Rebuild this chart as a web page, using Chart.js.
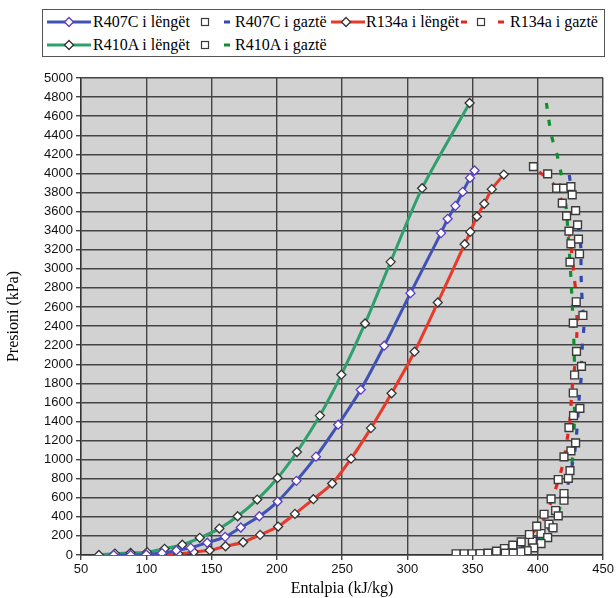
<!DOCTYPE html>
<html>
<head>
<meta charset="utf-8">
<script src="https://cdn.jsdelivr.net/npm/chart.js@4/dist/chart.umd.min.js"></script>
<style>
  body { margin: 0; background: #fff; }
  #wrap { position: relative; width: 616px; height: 598px; }
  #legend { position: absolute; left: 0; top: 0; }
  #legend text { font-family: "Liberation Serif", serif; font-size: 16px; fill: #000; }
</style>
</head>
<body>
<div id="wrap">
  <canvas id="chart" width="616" height="598"></canvas>
  <svg id="legend" width="616" height="62"></svg>
</div>
<script>
// saturated liquid lines (enthalpy kJ/kg, pressure kPa)
const r407cLiqH = [75, 88, 100, 112, 123, 134, 146.7, 160.4, 172.4, 186.6, 200.6, 215, 230, 247, 264.3, 282.3, 302.4, 325.8, 330.9, 336.8, 342.4, 348, 351.5]
const r407cLiqP = [0, 0, 5, 20, 47, 75, 128, 190, 288, 406, 560, 777, 1031, 1366, 1733, 2194, 2745, 3374, 3524, 3660, 3806, 3953, 4030]

const r134aLiqH = [100, 112.3, 124.6, 136.4, 148.6, 160.7, 174.2, 187.2, 201, 213.9, 228, 242.4, 256.9, 272.1, 287.9, 305.5, 323.3, 343.9, 348.2, 353.3, 358.9, 364.7, 373.9]
const r134aLiqP = [0, 10, 12, 32, 50, 92, 134, 211, 298, 431, 585, 749, 1010, 1330, 1695, 2131, 2647, 3258, 3387, 3548, 3681, 3835, 3988]

const r410aLiqH = [63.7, 76, 88, 100.6, 114, 127.6, 141, 156, 170, 185, 200.6, 215.4, 233, 249.5, 267.6, 287.2, 311.3, 347.7]
const r410aLiqP = [0, 15, 23, 30, 65, 107, 180, 277, 406, 581, 808, 1080, 1461, 1890, 2427, 3073, 3845, 4738]

// saturated vapour lines (dashed)
const r407cGazH = [424, 428.6, 431.7, 433, 433, 433.4, 434.2, 435.3, 434.2, 433.4, 433, 431.7, 429.6, 427.9, 424.6, 419, 410, 398.5, 383, 362]
const r407cGazP = [3984, 3592, 3382, 3199, 2990, 2812, 2602, 2414, 2225, 2016, 1838, 1660, 1262, 1052, 843, 508, 288, 141, 58, 16]

const r134aGazH = [401.1, 411.8, 417.9, 422.5, 425.6, 427.9, 429.2, 429.9, 429.9, 429, 428.1, 426.6, 424.3, 422.1, 419.5, 411.6, 404.2, 392.7, 377.5, 358.4]
const r134aGazP = [4016, 3890, 3723, 3503, 3199, 2906, 2728, 2518, 2330, 2152, 1963, 1806, 1387, 1188, 969, 613, 372, 194, 89, 26]

const r410aGazH = [406.5, 410.3, 414.9, 418, 420.2, 421.8, 424, 425.6, 427.5, 428.2, 427.9, 427.1, 424.8, 421.8, 417.2, 411.8, 404.2, 392.7, 377.5]
const r410aGazP = [4738, 4403, 4183, 3984, 3796, 3618, 3199, 2832, 2257, 1838, 1419, 1105, 843, 717, 508, 340, 183, 79, 26]

// measured points (white squares)
const sqAH = [425.3, 426.3, 428.9, 430.4, 431.1, 431.9, 434.5, 433.4, 432.2, 428.9, 424.6, 420, 415.6, 411.6, 407.5, 402.4, 396.8, 391.8, 386.9, 381.1, 375]
const sqAP = [3862, 3775, 3610, 3461, 3311, 3157, 2511, 1977, 1537, 1175, 885, 644, 410, 285, 183, 120, 75, 44, 34, 19, 19]

const sqBH = [396.6, 407.5, 414.4, 419.7, 418.7, 422, 423.8, 425.3, 424.6, 429.4, 427.1, 429.6, 428.1, 427.1, 427.3, 423.8, 425.3, 420, 415.6, 410.1, 404.7, 399.1, 393.5, 387.2, 380.8, 374.4, 368.3, 361.7, 355.6, 349.5, 343.4, 337.3]
const sqBP = [4071, 3995, 3845, 3845, 3688, 3555, 3395, 3262, 3070, 2654, 2431, 2134, 1887, 1698, 1461, 1335, 1091, 1028, 791, 588, 427, 302, 215, 138, 103, 68, 40, 19, 16, 13, 13, 13]

const sqCH = [423.3, 420, 413.6, 408.5, 402.4, 395.8]
const sqCP = [804, 574, 466, 323, 225, 145]

const blue = '#4053b4', red = '#e8392a', green = '#2f9f6c'
const blueDash = '#3048b0', redDash = '#e0281e', greenDash = '#10902c'

function pts(h, p) {
    return h.map((v, i) => ({ x: v, y: p[i] }))
}

function liquid(label, h, p, color, edge) {
    return {
        label: label, data: pts(h, p), showLine: true,
        borderColor: color, borderWidth: 3, tension: 0.25,
        pointStyle: 'rectRot', pointRadius: 4.5, pointHoverRadius: 4.5,
        pointBackgroundColor: '#fff', pointBorderColor: edge, pointBorderWidth: 1.3,
        order: 1
    }
}

function vapour(label, h, p, color) {
    return {
        label: label, data: pts(h, p), showLine: true,
        borderColor: color, borderWidth: 3.2, borderDash: [6, 11], tension: 0.3,
        pointRadius: 0, order: 2
    }
}

function squares(h, p) {
    return {
        label: '', data: pts(h, p), showLine: false,
        pointStyle: 'rect', pointRadius: 5.5, pointHoverRadius: 5.5,
        pointBackgroundColor: '#fff', pointBorderColor: '#3a3a3a', pointBorderWidth: 1.4,
        order: 0
    }
}

const plotBg = {
    id: 'plotBg',
    beforeDraw(chart) {
        const a = chart.chartArea, ctx = chart.ctx
        ctx.save()
        ctx.fillStyle = '#d2d2d2'
        ctx.fillRect(a.left, a.top, a.right - a.left, a.bottom - a.top)
        ctx.restore()
    }
}

new Chart(document.getElementById('chart'), {
    type: 'scatter',
    data: {
        datasets: [
            liquid('R407C i lëngët', r407cLiqH, r407cLiqP, blue, '#5a3cc0'),
            squares(sqAH, sqAP),
            vapour('R407C i gaztë', r407cGazH, r407cGazP, blueDash),
            liquid('R134a i lëngët', r134aLiqH, r134aLiqP, red, '#333'),
            squares(sqBH, sqBP),
            vapour('R134a i gaztë', r134aGazH, r134aGazP, redDash),
            liquid('R410A i lëngët', r410aLiqH, r410aLiqP, green, '#333'),
            squares(sqCH, sqCP),
            vapour('R410A i gaztë', r410aGazH, r410aGazP, greenDash)
        ]
    },
    options: {
        responsive: false,
        animation: false,
        layout: { padding: { top: 78, left: 0, right: 0, bottom: 0 } },
        plugins: { legend: { display: false }, tooltip: { enabled: false } },
        scales: {
            x: {
                type: 'linear', min: 50, max: 450,
                afterFit(scale) { scale.height = 43 },
                ticks: { stepSize: 50, color: '#111', font: { family: 'Liberation Sans', size: 13 }, padding: 2,
                    callback: v => String(v) },
                grid: { color: '#444', lineWidth: 1.4, tickLength: 5 },
                border: { color: '#333', width: 1.4 },
                title: { display: true, text: 'Entalpia (kJ/kg)', color: '#000',
                    font: { family: 'Liberation Serif', size: 16 }, padding: { top: 2, bottom: 0 } }
            },
            y: {
                min: 0, max: 5000,
                afterFit(scale) { scale.width = 81 },
                ticks: { stepSize: 200, autoSkip: false, color: '#111', font: { family: 'Liberation Sans', size: 13 }, padding: 3,
                    callback: v => String(v) },
                grid: { color: '#444', lineWidth: 1.4, tickLength: 5 },
                border: { color: '#333', width: 1.4 },
                title: { display: true, text: 'Presioni (kPa)', color: '#000',
                    font: { family: 'Liberation Serif', size: 16 }, padding: { top: 4, bottom: 4 } }
            }
        }
    },
    plugins: [plotBg]
})

// legend drawn as svg (real text)
const NS = 'http://www.w3.org/2000/svg'
const svg = document.getElementById('legend')

function el(name, attrs, text) {
    const e = document.createElementNS(NS, name)
    for (const k in attrs) e.setAttribute(k, attrs[k])
    if (text) e.textContent = text
    svg.appendChild(e)
    return e
}

function lineSample(x, y, color, edge) {
    el('line', { x1: x, y1: y, x2: x + 44, y2: y, stroke: color, 'stroke-width': 3 })
    const c = x + 22
    el('polygon', { points: `${c},${y - 4.5} ${c + 4.5},${y} ${c},${y + 4.5} ${c - 4.5},${y}`,
        fill: '#fff', stroke: edge, 'stroke-width': 1.3 })
}

function square(x, y) {
    el('rect', { x: x - 3.5, y: y - 3.5, width: 7, height: 7, fill: '#fff', stroke: '#3a3a3a', 'stroke-width': 1.2 })
}

function dash(x, y, color) {
    el('line', { x1: x - 3, y1: y, x2: x + 3, y2: y, stroke: color, 'stroke-width': 3 })
}

el('rect', { x: 42.5, y: 9.5, width: 562, height: 47, fill: '#fff', stroke: '#555', 'stroke-width': 1 })

const row1 = 22, row2 = 45
const labels1 = ['R407C i lëngët', 'R407C i gaztë', 'R134a i lëngët', 'R134a i gaztë']
const labels2 = ['R410A i lëngët', 'R410A i gaztë']

lineSample(47, row1, blue, '#5a3cc0')
el('text', { x: 93, y: row1 + 5 }, labels1[0])
square(205, row1)
dash(227, row1, blueDash)
el('text', { x: 235, y: row1 + 5 }, labels1[1])
el('line', { x1: 331, y1: row1, x2: 365, y2: row1, stroke: red, 'stroke-width': 3 })
el('polygon', { points: `346,${row1 - 4.5} 350.5,${row1} 346,${row1 + 4.5} 341.5,${row1}`,
    fill: '#fff', stroke: '#333', 'stroke-width': 1.3 })
el('text', { x: 366, y: row1 + 5 }, labels1[2])
dash(464, row1, redDash)
square(481, row1)
dash(501, row1, redDash)
el('text', { x: 510, y: row1 + 5 }, labels1[3])

lineSample(47, row2, green, '#333')
el('text', { x: 93, y: row2 + 5 }, labels2[0])
square(205, row2)
dash(227, row2, greenDash)
el('text', { x: 235, y: row2 + 5 }, labels2[1])
</script>
</body>
</html>
